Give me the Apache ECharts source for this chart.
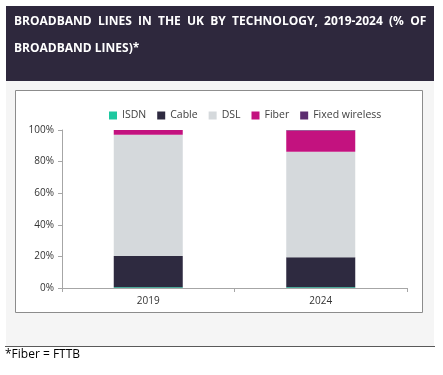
<!DOCTYPE html>
<html><head><meta charset="utf-8">
<script src="https://cdn.jsdelivr.net/npm/echarts@6/dist/echarts.min.js"></script>
<style>html,body{margin:0;padding:0;background:#fff}#c{width:443px;height:375px}</style>
</head><body><div id="c"></div>
<script>
const categories = ['2019', '2024'];
const seriesNames = ['ISDN', 'Cable', 'DSL', 'Fiber', 'Fixed wireless'];
const isdn = [0.5, 0.5];
const cable = [19.8, 19.0];
const dsl = [76.7, 66.8];
const fiber = [3.0, 13.4];
const fixedWireless = [0.0, 0.3];
const yTicks = ['0%', '20%', '40%', '60%', '80%', '100%'];
const colors = ['#1ec8a0', '#2e2a40', '#d5d9dc', '#c3127f', '#5c2d70'];
const values = [isdn, cable, dsl, fiber, fixedWireless];
const font = "'Open Sans', 'Noto Sans', sans-serif";

const chart = echarts.init(document.getElementById('c'), null, {renderer: 'canvas'});
chart.setOption({
  animation: false,
  backgroundColor: '#ffffff',
  graphic: [
    {type: 'rect', z: -10, shape: {x: 6, y: 6, width: 428, height: 75}, style: {fill: '#2e283d'}},
    {type: 'rect', z: -10, shape: {x: 6, y: 81, width: 428, height: 265}, style: {fill: '#f5f5f5'}},
    {type: 'rect', z: -9, shape: {x: 15.5, y: 90.5, width: 407, height: 222}, style: {fill: '#ffffff', stroke: '#8c8c8c', lineWidth: 1}},
    {type: 'line', z: -9, shape: {x1: 5, y1: 346.5, x2: 435, y2: 346.5}, style: {stroke: '#595959', lineWidth: 1.2}},
    {type: 'text', left: 14, top: 16, style: {text: 'BROADBAND  LINES  IN  THE  UK  BY  TECHNOLOGY,  2019-2024  (%  OF', fill: '#ffffff', font: 'bold 12px ' + font}},
    {type: 'text', left: 14, top: 43, style: {text: 'BROADBAND LINES)*', fill: '#ffffff', font: 'bold 12px ' + font}},
    {type: 'text', left: 5, top: 349, style: {text: '*Fiber = FTTB', fill: '#000000', font: '12px ' + font}}
  ],
  legend: {
    top: 105, left: 104,
    itemWidth: 8, itemHeight: 8, itemGap: 11,
    icon: 'rect',
    textStyle: {fontFamily: font, fontSize: 10.5, color: '#404040'},
    data: seriesNames
  },
  grid: {left: 62, right: 36, top: 130, bottom: 87},
  xAxis: {
    type: 'category', data: categories,
    axisLine: {lineStyle: {color: '#a6a6a6'}},
    axisTick: {show: true, alignWithLabel: false, length: 4, lineStyle: {color: '#a6a6a6'}},
    axisLabel: {color: '#333', fontFamily: font, fontSize: 10, margin: 8}
  },
  yAxis: {
    type: 'value', min: 0, max: 100, interval: 20,
    splitLine: {show: false},
    axisLine: {show: true, lineStyle: {color: '#a6a6a6'}},
    axisTick: {show: true, length: 4, lineStyle: {color: '#a6a6a6'}},
    axisLabel: {color: '#333', fontFamily: font, fontSize: 10, margin: 8,
      formatter: v => yTicks[Math.round(v / 20)]}
  },
  series: seriesNames.map((n, i) => ({
    name: n, type: 'bar', stack: 'total', data: values[i],
    barWidth: '40%',
    itemStyle: {color: colors[i]}
  })),
  color: colors
});
</script></body></html>
